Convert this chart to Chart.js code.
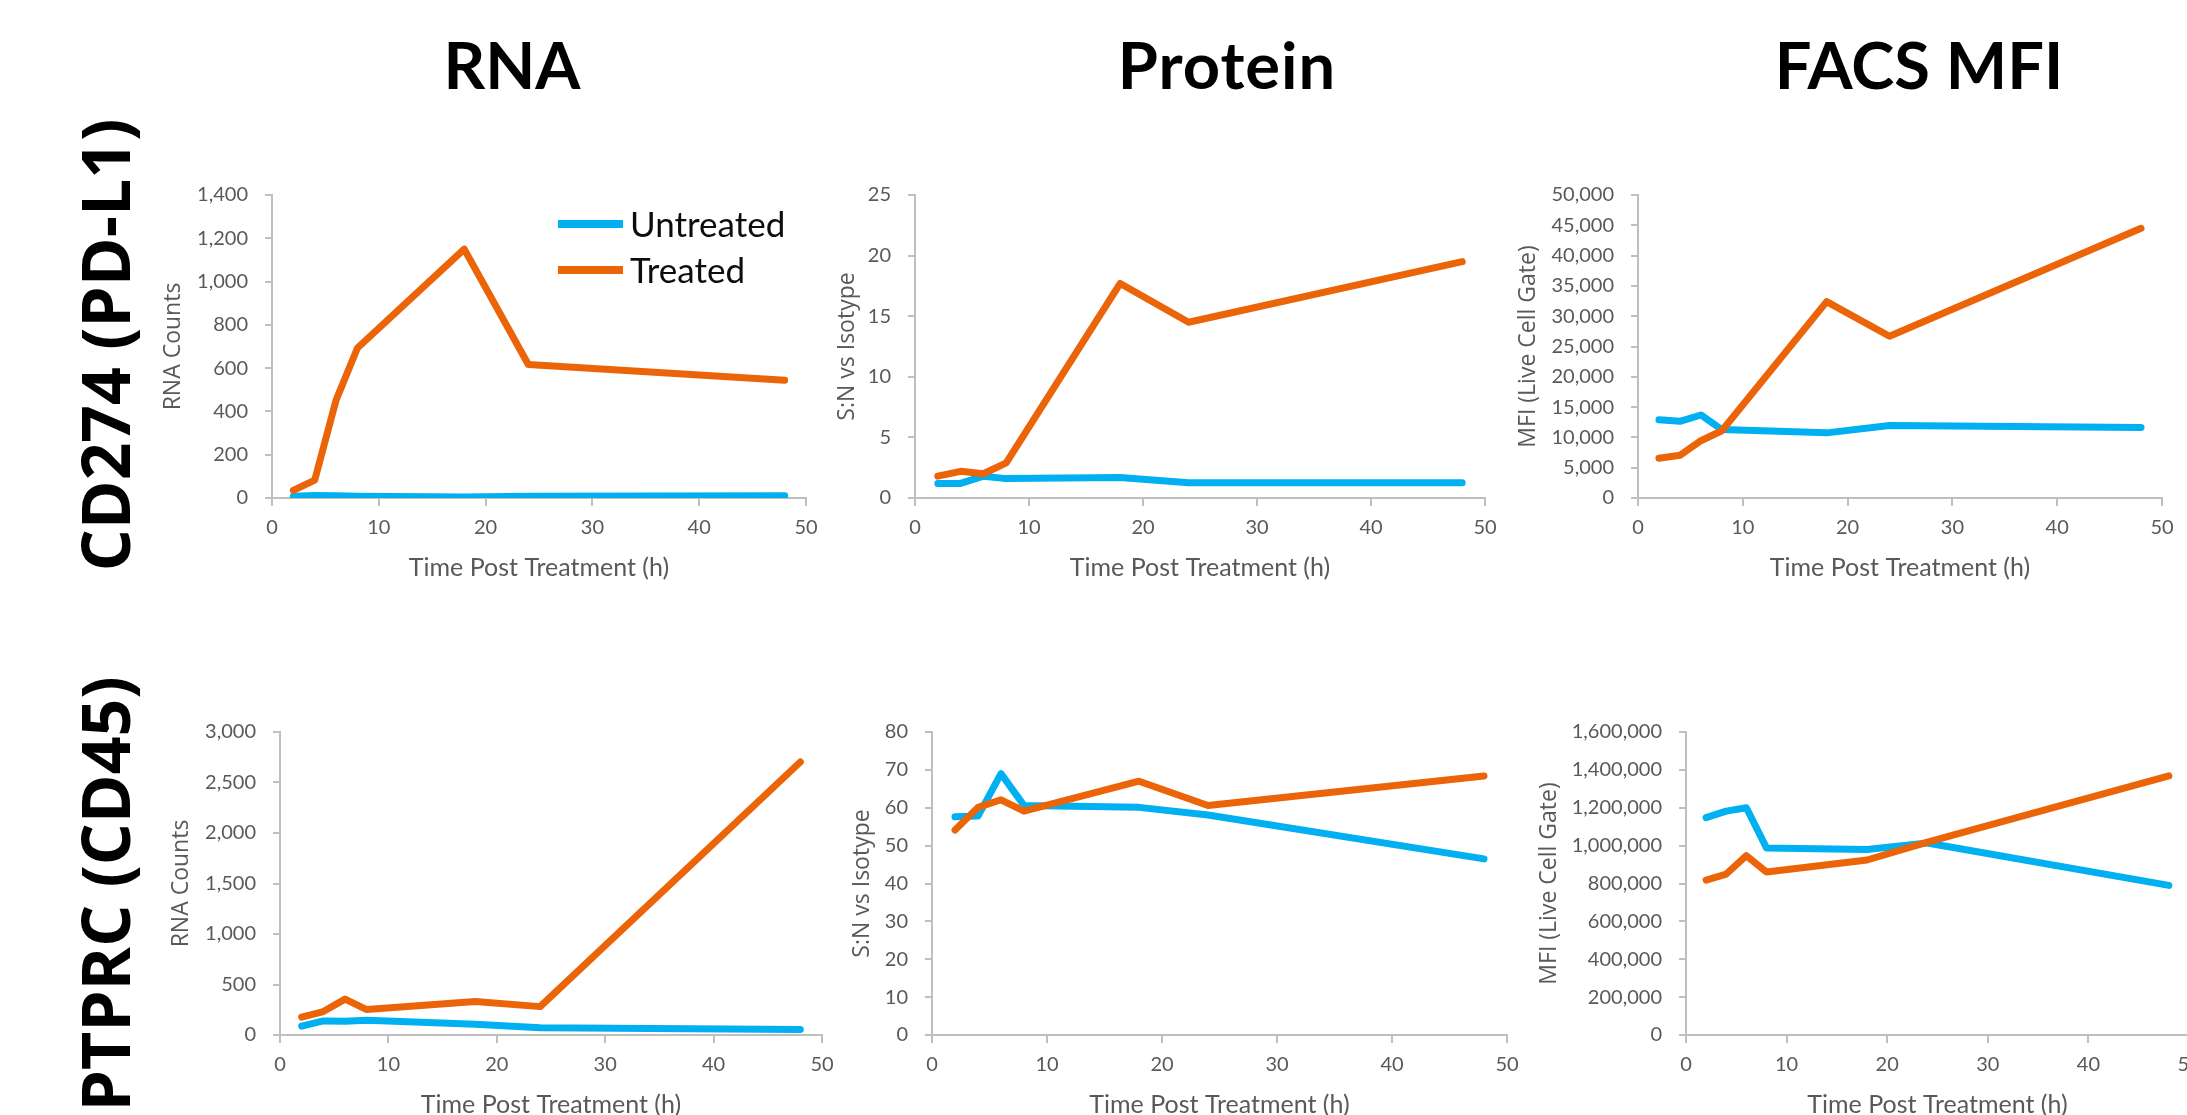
<!DOCTYPE html>
<html><head><meta charset="utf-8">
<script src="https://cdn.jsdelivr.net/npm/chart.js@4.4.1/dist/chart.umd.min.js"></script>
<style>
html,body{margin:0;padding:0;background:#fff;width:2187px;height:1115px;overflow:hidden;position:relative}
canvas{position:absolute}
.colTitle{position:absolute;top:32px;font:700 65px Lato,sans-serif;line-height:65px;height:65px;color:#000;white-space:nowrap;transform:translateX(-50%)}
.rowTitle{position:absolute;font:700 66px 'Open Sans',sans-serif;line-height:66px;height:66px;width:700px;text-align:center;color:#000;white-space:nowrap;transform:translate(-50%,-50%) rotate(-90deg)}
</style></head><body>
<div class="colTitle" style="left:512px">RNA</div>
<div class="colTitle" style="left:1227px;letter-spacing:1px">Protein</div>
<div class="colTitle" style="left:1919px">FACS MFI</div>
<div class="rowTitle" style="left:104px;top:345px">CD274 (PD-L1)</div>
<div class="rowTitle" style="left:104px;top:894px">PTPRC (CD45)</div>
<script>
// ---------- data ----------
const hours = [2, 4, 6, 8, 18, 24, 48];
const seriesLabels = ['Untreated', 'Treated'];
const xAxisTitle = 'Time Post Treatment (h)';
const xTickRange = [0, 50, 10];

const cd274RnaUntreated  = [8, 12, 10, 8, 5, 8, 10];
const cd274RnaTreated    = [35, 83, 452, 693, 1150, 617, 544];
const cd274ProtUntreated = [1.2, 1.2, 1.8, 1.6, 1.7, 1.25, 1.25];
const cd274ProtTreated   = [1.8, 2.2, 2.0, 2.9, 17.7, 14.5, 19.5];
const cd274FacsUntreated = [12900, 12650, 13700, 11300, 10750, 11950, 11650];
const cd274FacsTreated   = [6550, 7050, 9450, 11100, 32400, 26700, 44500];

const cd45RnaUntreated  = [87, 139, 135, 145, 106, 71, 55];
const cd45RnaTreated    = [177, 232, 355, 252, 332, 281, 2703];
const cd45ProtUntreated = [57.6, 57.8, 69.0, 60.6, 60.1, 58.1, 46.5];
const cd45ProtTreated   = [54.1, 60.1, 62.1, 59.1, 67.0, 60.6, 68.4];
const cd45FacsUntreated = [1148000, 1182000, 1200000, 988000, 979000, 1014000, 790000];
const cd45FacsTreated   = [818000, 850000, 947000, 861000, 924000, 1019000, 1368000];

const yTitleRna = 'RNA Counts';
const yTitleProt = 'S:N vs Isotype';
const yTitleFacs = 'MFI (Live Cell Gate)';
// y range: [min, max, step]
const yRangeCd274Rna = [0, 1400, 200];
const yRangeCd274Prot = [0, 25, 5];
const yRangeCd274Facs = [0, 50000, 5000];
const yRangeCd45Rna = [0, 3000, 500];
const yRangeCd45Prot = [0, 80, 10];
const yRangeCd45Facs = [0, 1600000, 200000];

// ---------- style / layout ----------
const BLUE = '#00B0F0', ORANGE = '#EC6408';
const GREY_TXT = '#595959', AXIS = '#BFBFBF';
const PAD_TOP = 22, PAD_RIGHT = 40, X_H = 100, TITLE_GAP = 25;

const panels = [
  {L:272, R:806,  T:188, B:498,  tx:173,  yr:yRangeCd274Rna,  yt:yTitleRna,  u:cd274RnaUntreated,  t:cd274RnaTreated, legend:true},
  {L:915, R:1485, T:188, B:498,  tx:847,  yr:yRangeCd274Prot, yt:yTitleProt, u:cd274ProtUntreated, t:cd274ProtTreated},
  {L:1638,R:2162, T:188, B:498,  tx:1528, yr:yRangeCd274Facs, yt:yTitleFacs, u:cd274FacsUntreated, t:cd274FacsTreated},
  {L:280, R:822,  T:725, B:1035, tx:181,  yr:yRangeCd45Rna,   yt:yTitleRna,  u:cd45RnaUntreated,   t:cd45RnaTreated},
  {L:932, R:1507, T:725, B:1035, tx:862,  yr:yRangeCd45Prot,  yt:yTitleProt, u:cd45ProtUntreated,  t:cd45ProtTreated},
  {L:1686,R:2189, T:725, B:1035, tx:1549, yr:yRangeCd45Facs,  yt:yTitleFacs, u:cd45FacsUntreated,  t:cd45FacsTreated}
];

const insideLegend = {
  id: 'insideLegend',
  afterDraw(chart, args, o) {
    if (!o || !o.show) return;
    const ctx = chart.ctx, a = chart.chartArea;
    ctx.save();
    chart.data.datasets.forEach((ds, i) => {
      const y = a.top + o.y0 + i * o.dy;
      ctx.strokeStyle = ds.borderColor; ctx.lineWidth = 8; ctx.lineCap = 'butt';
      ctx.beginPath(); ctx.moveTo(a.left + o.x0, y); ctx.lineTo(a.left + o.x1, y); ctx.stroke();
      ctx.fillStyle = '#0D0D0D'; ctx.font = '35px Lato'; ctx.textBaseline = 'alphabetic'; ctx.textAlign = 'left';
      ctx.fillText(ds.label, a.left + o.tx, y + o.base);
    });
    ctx.restore();
  }
};

function toPoints(vals) { return hours.map((h, i) => ({x: h, y: vals[i]})); }

panels.forEach(p => {
  const W = p.L - p.tx + TITLE_GAP;
  const cw = W + (p.R - p.L) + PAD_RIGHT;
  const ch = PAD_TOP + (p.B - p.T) + X_H;
  const c = document.createElement('canvas');
  c.width = cw; c.height = ch;
  c.style.width = cw + 'px'; c.style.height = ch + 'px';
  c.style.left = (p.L - W) + 'px'; c.style.top = (p.T - PAD_TOP) + 'px';
  document.body.appendChild(c);
  const axisGrid = (len) => ({display:true, drawOnChartArea:false, drawTicks:true, tickLength:len, color:AXIS, lineWidth:2});
  new Chart(c.getContext('2d'), {
    type: 'line',
    data: {
      datasets: [
        {label: seriesLabels[0], data: toPoints(p.u), borderColor: BLUE, backgroundColor: BLUE, order: 1},
        {label: seriesLabels[1], data: toPoints(p.t), borderColor: ORANGE, backgroundColor: ORANGE, order: 0}
      ]
    },
    plugins: [insideLegend],
    options: {
      responsive: false, animation: false, devicePixelRatio: 1,
      layout: {padding: {top: PAD_TOP, right: PAD_RIGHT, left: 0, bottom: 0}},
      elements: {point: {radius: 0}, line: {borderWidth: 7, tension: 0, borderCapStyle: 'round', borderJoinStyle: 'round', fill: false}},
      plugins: {
        legend: {display: false}, tooltip: {enabled: false},
        insideLegend: {show: !!p.legend, x0: 286, x1: 351, y0: 29, dy: 46, tx: 358, base: 13}
      },
      scales: {
        x: {
          type: 'linear', min: xTickRange[0], max: xTickRange[1],
          ticks: {stepSize: xTickRange[2], color: GREY_TXT, font: {family: 'Lato', size: 20}, padding: 10, maxRotation: 0},
          grid: axisGrid(8),
          border: {display: true, color: AXIS, width: 2},
          title: {display: true, text: xAxisTitle, color: GREY_TXT, font: {family: 'Lato', size: 25, lineHeight: 1}, padding: {top: 0, bottom: X_H - 70 - 12.5}},
          afterFit: s => { s.height = X_H; }
        },
        y: {
          min: p.yr[0], max: p.yr[1],
          ticks: {stepSize: p.yr[2], color: GREY_TXT, font: {family: 'Lato', size: 20}, padding: 17},
          grid: axisGrid(7),
          border: {display: true, color: AXIS, width: 2},
          title: {display: true, text: p.yt, color: GREY_TXT, font: {family: 'Open Sans', size: 23, lineHeight: 1}, padding: {top: TITLE_GAP - 11.5, bottom: 0}},
          afterFit: s => { s.width = W; }
        }
      }
    }
  });
});
</script>
</body></html>
